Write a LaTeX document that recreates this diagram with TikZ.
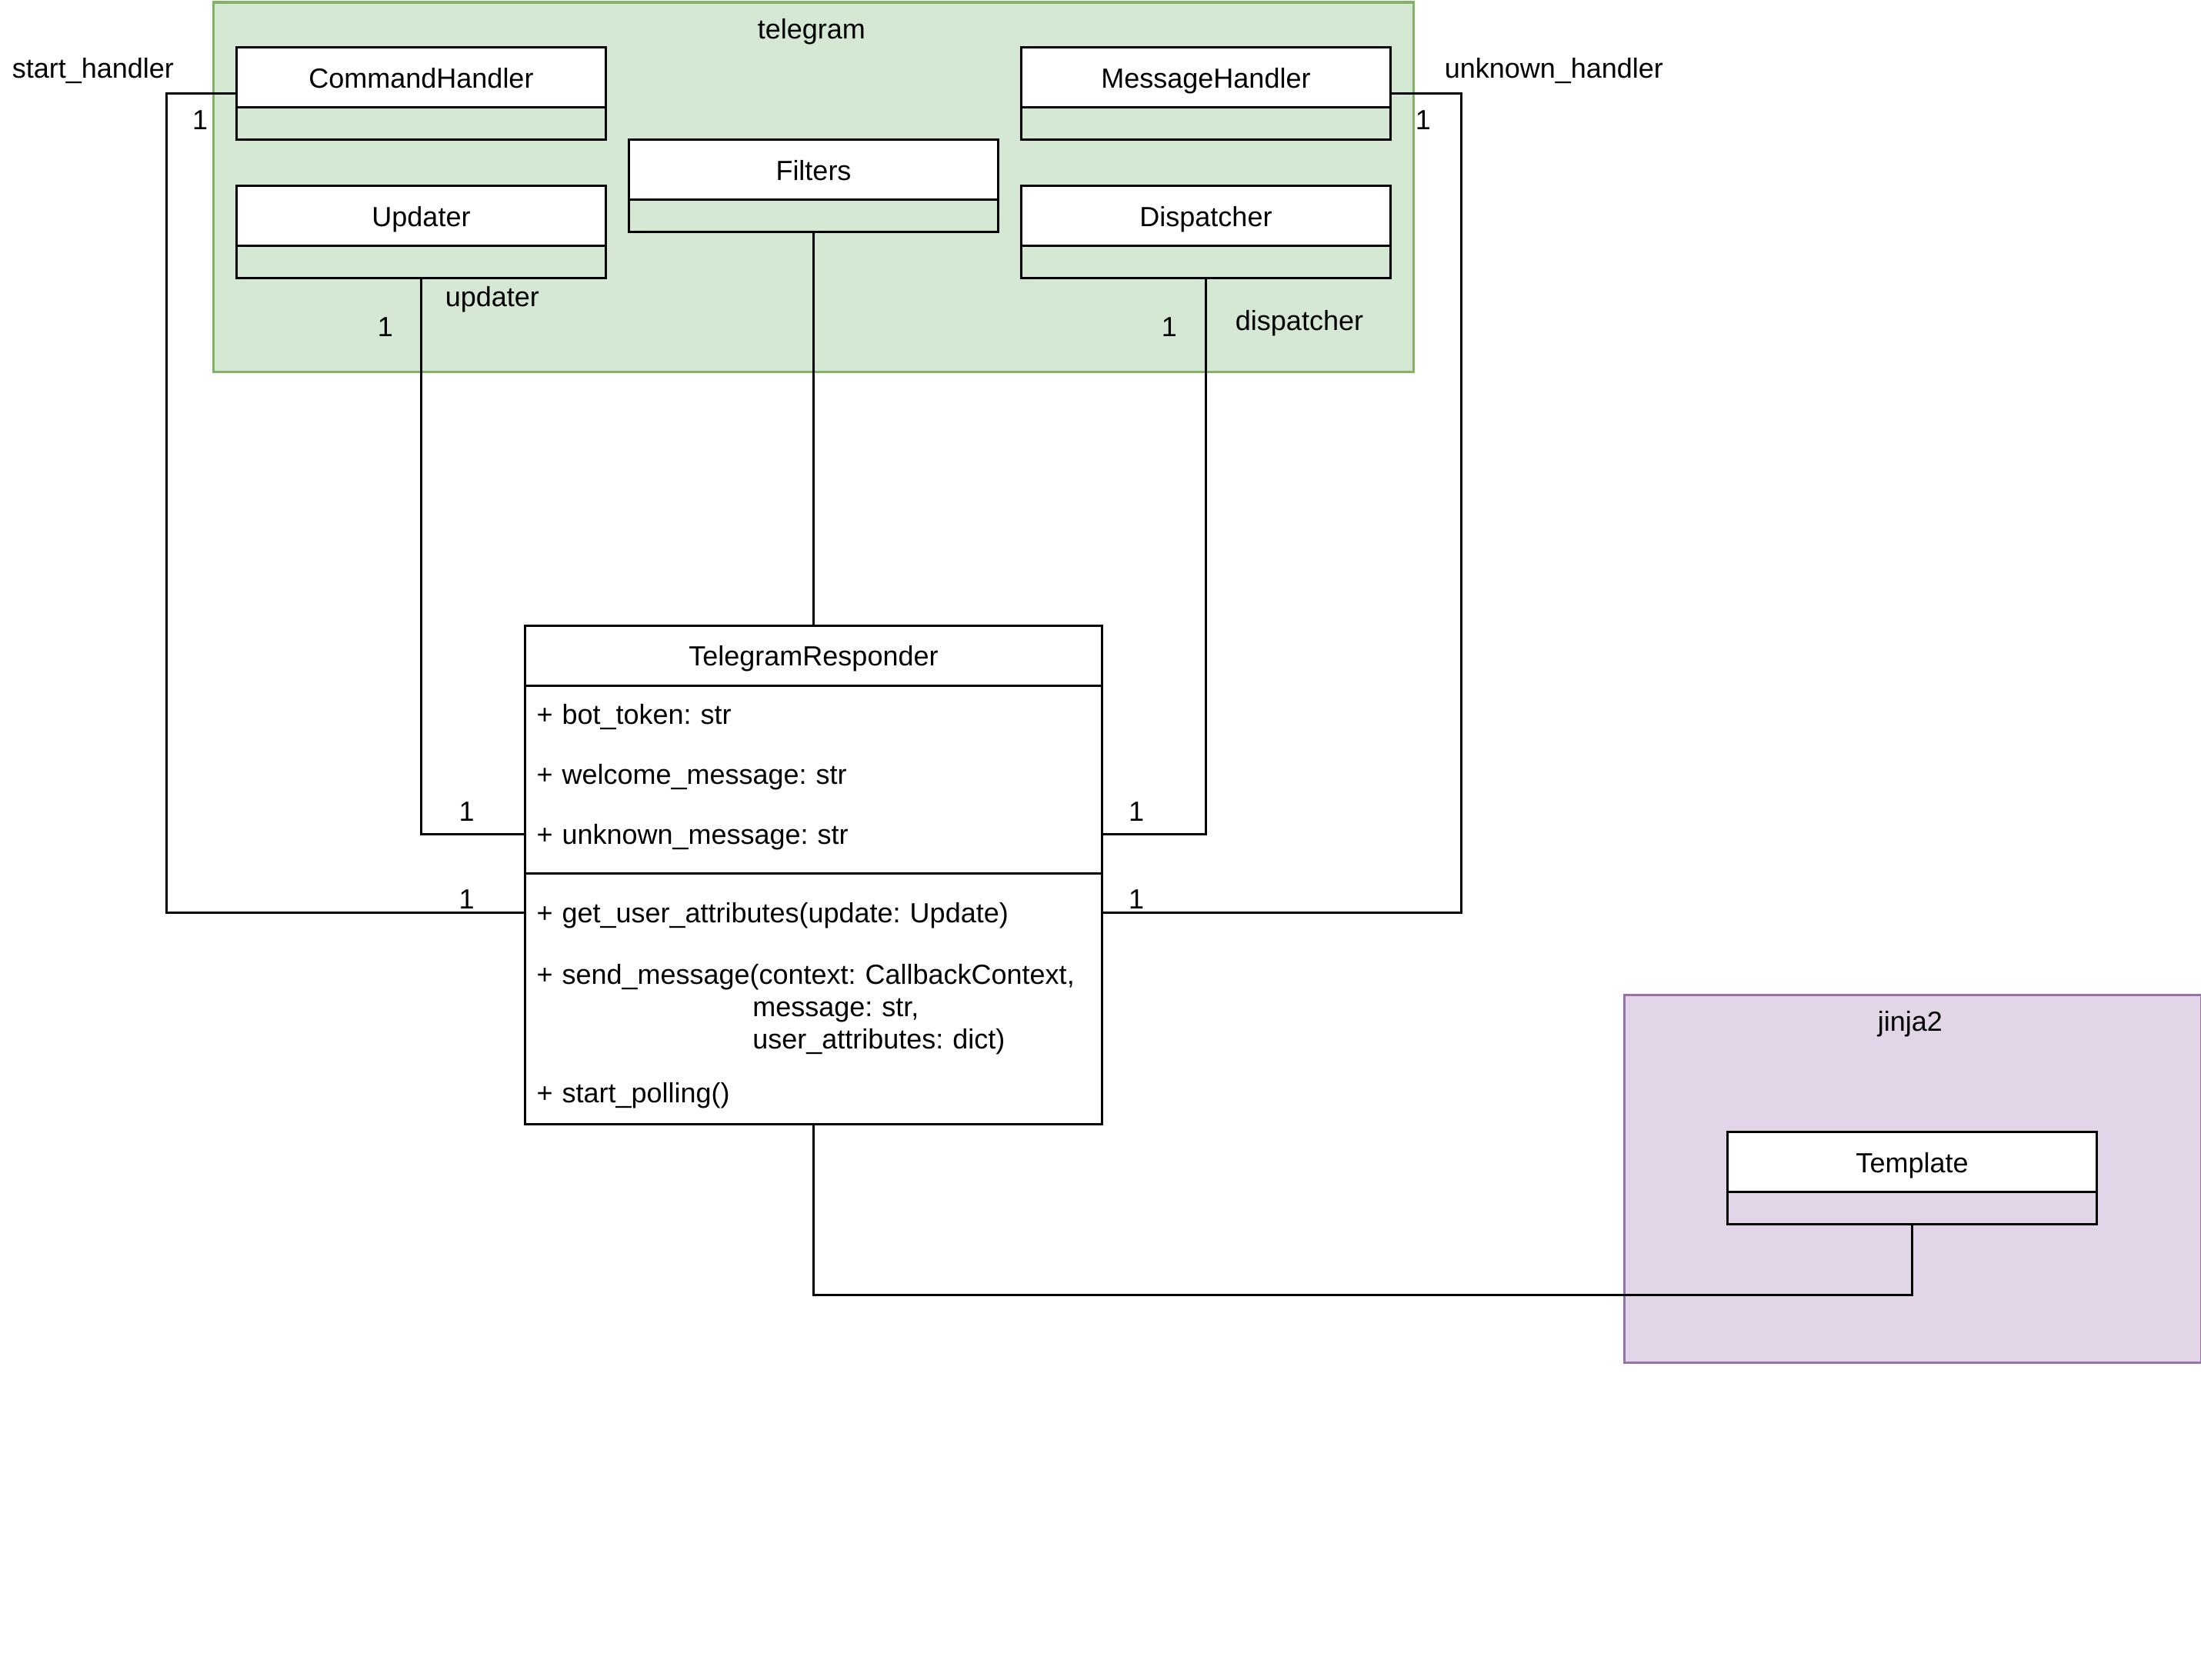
\documentclass[tikz,border=0pt]{standalone}
\usepackage{fontspec}
\setmainfont{Liberation Sans}
\frenchspacing
\definecolor{tgfill}{HTML}{D5E8D4}
\definecolor{tgline}{HTML}{82B366}
\definecolor{jjfill}{HTML}{E1D5E7}
\definecolor{jjline}{HTML}{9673A6}
\begin{document}
\begin{tikzpicture}[x=1pt,y=-1pt,
  font=\fontsize{12}{14}\selectfont,
  line width=1pt,
  package/.style={draw=#1line, fill=#1fill, anchor=north west, inner sep=0pt,
    minimum width=520pt, minimum height=160pt},
  classbody/.style={draw=black, anchor=north west, inner sep=0pt,
    minimum width=160pt, minimum height=40pt},
  classhead/.style={draw=black, fill=white, anchor=north west, inner sep=0pt,
    minimum width=160pt, minimum height=26pt, text height=9.8pt, text depth=0.6pt},
  member/.style={anchor=west, inner xsep=5pt, inner ysep=0pt, text width=240pt,
    align=left, minimum height=26pt, text height=9.4pt, text depth=0.6pt},
  multimember/.style={anchor=west, inner xsep=5pt, inner ysep=0pt, text width=240pt,
    align=left},
  lbl/.style={inner sep=0pt, anchor=base},
  conn/.style={draw=black, line width=1pt}]

\useasboundingbox (0,0) rectangle (953.67,728);

% package frames
\node (telegram) [package=tg] at (92,0.5) {};
\node (tgtitle) [lbl] at (351.6,16.7) {telegram};
\node (jinja) [package=jj, minimum width=250pt, minimum height=159.5pt] at (703.2,430.5) {};
\node (jjtitle) [lbl] at (827.6,446.7) {jinja2};

% telegram classes
\node (cmd) [classbody] at (102,20) {};
\node (cmdh) [classhead] at (102,20) {CommandHandler};
\node (upd) [classbody] at (102,80) {};
\node (updh) [classhead] at (102,80) {Updater};
\node (filt) [classbody] at (272,60) {};
\node (filth) [classhead] at (272,60) {Filters};
\node (msg) [classbody] at (442,20) {};
\node (msgh) [classhead] at (442,20) {MessageHandler};
\node (disp) [classbody] at (442,80) {};
\node (disph) [classhead] at (442,80) {Dispatcher};

% jinja2 class
\node (tpl) [classbody] at (748,490) {};
\node (tplh) [classhead] at (748,490) {Template};

% main class
\node (tr) [draw=black, anchor=north west, inner sep=0pt, minimum width=250pt,
  minimum height=216pt] at (227,270.5) {};
\node (trh) [draw=black, fill=white, anchor=north west, inner sep=0pt,
  minimum width=250pt, minimum height=26pt, text height=9.4pt, text depth=0.6pt]
  at (227,270.5) {TelegramResponder};
\node (mTok) [member] at (227,309.5) {+ bot\_token: str};
\node (mWel) [member] at (227,335.5) {+ welcome\_message: str};
\node (mUnk) [member] at (227,361.5) {+ unknown\_message: str};
\draw (227,378.5) -- (477,378.5);
\node (mGet) [member] at (227,395.5) {+ get\_user\_attributes(update: Update)};
\node (mSend) [multimember] at (227,437.3) {+ send\_message(context: CallbackContext,\\
  \hspace*{93.6pt}message: str,\\
  \hspace*{93.6pt}user\_attributes: dict)};
\node (mPoll) [member] at (227,473.5) {+ start\_polling()};

% associations
\draw[conn] (cmd.west) -- ++(-30,0) |- (mGet.west);
\draw[conn] (upd.south) |- (mUnk.west);
\draw[conn] (filt.south) -- (tr.north);
\draw[conn] (disp.south) |- (mUnk.east);
\draw[conn] (msg.east) -- ++(30,0) |- (mGet.east);
\draw[conn] (tr.south) -- ++(0,73.5) -| (tpl.south);

% role names and multiplicities
\node (rStart) [lbl] at (40.3,33.7) {start\_handler};
\node (rUnknown) [lbl] at (673.3,33.7) {unknown\_handler};
\node (rUpd) [lbl] at (213.3,132.8) {updater};
\node (rDisp) [lbl] at (563,143.3) {dispatcher};
\node (nCmd) [lbl] at (86.7,56.1) {1};
\node (nMsg) [lbl] at (616.6,56.1) {1};
\node (nUpd) [lbl] at (167,145.8) {1};
\node (nDisp) [lbl] at (506.6,145.8) {1};
\node (nTrUpd) [lbl] at (202.2,355.9) {1};
\node (nTrCmd) [lbl] at (202.2,393.9) {1};
\node (nTrDisp) [lbl] at (492.4,355.9) {1};
\node (nTrMsg) [lbl] at (492.4,393.9) {1};
\end{tikzpicture}
\end{document}
